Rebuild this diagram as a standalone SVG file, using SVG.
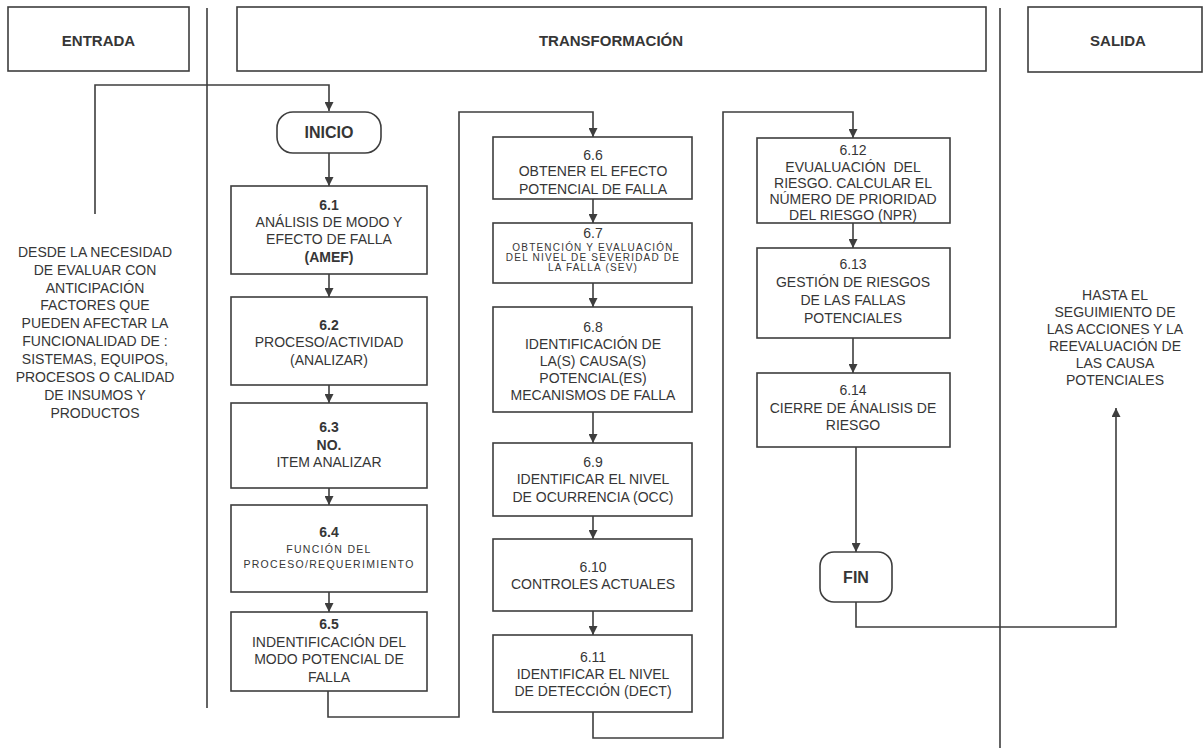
<svg xmlns="http://www.w3.org/2000/svg" width="1203" height="748" viewBox="0 0 1203 748">
<style>
.bg{fill:#ffffff}
.box{fill:#ffffff;stroke:#3e3e3e;stroke-width:1.6}
.sep{fill:none;stroke:#3e3e3e;stroke-width:1.6}
.con{fill:none;stroke:#3e3e3e;stroke-width:1.6}
text{font-family:"Liberation Sans",Arial,sans-serif;fill:#363636;text-anchor:middle;dominant-baseline:central}
.t{font-size:14px}
.b{font-size:14px;font-weight:bold}
.h{font-size:15px;font-weight:bold}
.term{font-size:16px;font-weight:bold}
.s{font-size:10px;letter-spacing:1.2px}
.s2{font-size:10.5px;letter-spacing:1.3px}
.pre{white-space:pre}
</style>
<defs>
<marker id="arr" markerUnits="userSpaceOnUse" markerWidth="9" markerHeight="9" refX="9" refY="4.5" orient="auto">
<path d="M0,0 L9,4.5 L0,9 z" fill="#3e3e3e"/>
</marker>
</defs>
<rect class="bg" x="0" y="0" width="1203" height="748"/>

<g id="headers">
<g id="entrada"><rect class="box" x="8" y="7" width="181" height="64"/><text class="h" x="98.5" y="40">ENTRADA</text></g>
<g id="transformacion"><rect class="box" x="237" y="7" width="749" height="64"/><text class="h" x="611" y="40">TRANSFORMACIÓN</text></g>
<g id="salida"><rect class="box" x="1028" y="7" width="174" height="65"/><text class="h" x="1118" y="40">SALIDA</text></g>
</g>

<g id="separators">
<path class="sep" d="M207 8 V708"/>
<path class="sep" d="M1000 8 V748"/>
</g>

<g id="connectors">
<path class="con" d="M95 214 V85 H329 V111" marker-end="url(#arr)"/>
<path class="con" d="M329 153 V186" marker-end="url(#arr)"/>
<path class="con" d="M329 274 V297" marker-end="url(#arr)"/>
<path class="con" d="M329 385 V403" marker-end="url(#arr)"/>
<path class="con" d="M329 488 V505" marker-end="url(#arr)"/>
<path class="con" d="M329 592 V612" marker-end="url(#arr)"/>
<path class="con" d="M328 691 V717 H459 V112 H593 V137" marker-end="url(#arr)"/>
<path class="con" d="M593 199 V223" marker-end="url(#arr)"/>
<path class="con" d="M593 283 V307" marker-end="url(#arr)"/>
<path class="con" d="M593 412 V443" marker-end="url(#arr)"/>
<path class="con" d="M593 516 V539" marker-end="url(#arr)"/>
<path class="con" d="M593 611 V635" marker-end="url(#arr)"/>
<path class="con" d="M593 712 V738 H723 V112 H853 V138" marker-end="url(#arr)"/>
<path class="con" d="M853 223 V248" marker-end="url(#arr)"/>
<path class="con" d="M853 338 V373" marker-end="url(#arr)"/>
<path class="con" d="M856 447 V552" marker-end="url(#arr)"/>
<path class="con" d="M856 602 V627 H1116 V408" marker-end="url(#arr)"/>
</g>

<g id="entrada-text">
<text class="t" x="95" y="252">DESDE LA NECESIDAD</text>
<text class="t" x="95" y="270">DE EVALUAR CON</text>
<text class="t" x="95" y="288">ANTICIPACIÓN</text>
<text class="t" x="95" y="305">FACTORES QUE</text>
<text class="t" x="95" y="323">PUEDEN AFECTAR LA</text>
<text class="t" x="95" y="341">FUNCIONALIDAD DE :</text>
<text class="t" x="95" y="359">SISTEMAS, EQUIPOS,</text>
<text class="t" x="95" y="377">PROCESOS O CALIDAD</text>
<text class="t" x="95" y="395">DE INSUMOS Y</text>
<text class="t" x="95" y="413">PRODUCTOS</text>
</g>

<g id="salida-text">
<text class="t" x="1115" y="295">HASTA EL</text>
<text class="t" x="1115" y="312">SEGUIMIENTO DE</text>
<text class="t" x="1115" y="329">LAS ACCIONES Y LA</text>
<text class="t" x="1115" y="346">REEVALUACIÓN DE</text>
<text class="t" x="1115" y="363">LAS CAUSA</text>
<text class="t" x="1115" y="380">POTENCIALES</text>
</g>

<g id="inicio"><rect class="box" x="277" y="112" width="104" height="41" rx="16"/><text class="term" x="329" y="132.5">INICIO</text></g>

<g id="n6-1"><rect class="box" x="231" y="186" width="196" height="88"/>
<text class="b" x="329" y="205">6.1</text>
<text class="t" x="329" y="222">ANÁLISIS DE MODO Y</text>
<text class="t" x="329" y="239">EFECTO DE FALLA</text>
<text class="b" x="329" y="257">(AMEF)</text></g>

<g id="n6-2"><rect class="box" x="231" y="297" width="196" height="88"/>
<text class="b" x="329" y="325">6.2</text>
<text class="t" x="329" y="342">PROCESO/ACTIVIDAD</text>
<text class="t" x="329" y="360">(ANALIZAR)</text></g>

<g id="n6-3"><rect class="box" x="231" y="403" width="196" height="85"/>
<text class="b" x="329" y="427">6.3</text>
<text class="b" x="329" y="445">NO.</text>
<text class="t" x="329" y="462">ITEM ANALIZAR</text></g>

<g id="n6-4"><rect class="box" x="231" y="505" width="196" height="87"/>
<text class="b" x="329" y="532">6.4</text>
<text class="s2" x="329" y="549">FUNCIÓN DEL</text>
<text class="s2" x="329" y="564">PROCESO/REQUERIMIENTO</text></g>

<g id="n6-5"><rect class="box" x="231" y="612" width="196" height="79"/>
<text class="b" x="329" y="624">6.5</text>
<text class="t" x="329" y="642">INDENTIFICACIÓN DEL</text>
<text class="t" x="329" y="659">MODO POTENCIAL DE</text>
<text class="t" x="329" y="677">FALLA</text></g>

<g id="n6-6"><rect class="box" x="493" y="137" width="199" height="62"/>
<text class="t" x="593" y="155">6.6</text>
<text class="t" x="593" y="171">OBTENER EL EFECTO</text>
<text class="t" x="593" y="189">POTENCIAL DE FALLA</text></g>

<g id="n6-7"><rect class="box" x="493" y="223" width="199" height="60"/>
<text class="t" x="593" y="233">6.7</text>
<text class="s" x="593" y="247">OBTENCIÓN Y EVALUACIÓN</text>
<text class="s" x="593" y="257">DEL NIVEL DE SEVERIDAD DE</text>
<text class="s" x="593" y="267">LA FALLA (SEV)</text></g>

<g id="n6-8"><rect class="box" x="493" y="307" width="199" height="105"/>
<text class="t" x="593" y="327">6.8</text>
<text class="t" x="593" y="344">IDENTIFICACIÓN DE</text>
<text class="t" x="593" y="361">LA(S) CAUSA(S)</text>
<text class="t" x="593" y="378">POTENCIAL(ES)</text>
<text class="t" x="593" y="395">MECANISMOS DE FALLA</text></g>

<g id="n6-9"><rect class="box" x="493" y="443" width="199" height="73"/>
<text class="t" x="593" y="462">6.9</text>
<text class="t" x="593" y="479">IDENTIFICAR EL NIVEL</text>
<text class="t" x="593" y="497">DE OCURRENCIA (OCC)</text></g>

<g id="n6-10"><rect class="box" x="493" y="539" width="199" height="72"/>
<text class="t" x="593" y="567">6.10</text>
<text class="t" x="593" y="584">CONTROLES ACTUALES</text></g>

<g id="n6-11"><rect class="box" x="493" y="635" width="199" height="77"/>
<text class="t" x="593" y="657">6.11</text>
<text class="t" x="593" y="674">IDENTIFICAR EL NIVEL</text>
<text class="t" x="593" y="691">DE DETECCIÓN (DECT)</text></g>

<g id="n6-12"><rect class="box" x="757" y="138" width="193" height="85"/>
<text class="t" x="853" y="150">6.12</text>
<text class="t pre" x="853" y="167">EVUALUACIÓN  DEL</text>
<text class="t" x="853" y="183">RIESGO. CALCULAR EL</text>
<text class="t" x="853" y="199">NÚMERO DE PRIORIDAD</text>
<text class="t" x="853" y="215">DEL RIESGO (NPR)</text></g>

<g id="n6-13"><rect class="box" x="757" y="248" width="193" height="90"/>
<text class="t" x="853" y="264">6.13</text>
<text class="t" x="853" y="282">GESTIÓN DE RIESGOS</text>
<text class="t" x="853" y="300">DE LAS FALLAS</text>
<text class="t" x="853" y="318">POTENCIALES</text></g>

<g id="n6-14"><rect class="box" x="757" y="373" width="193" height="74"/>
<text class="t" x="853" y="390">6.14</text>
<text class="t" x="853" y="408">CIERRE DE ÁNALISIS DE</text>
<text class="t" x="853" y="425">RIESGO</text></g>

<g id="fin"><rect class="box" x="820" y="552" width="72" height="50" rx="14"/><text class="term" x="856" y="577">FIN</text></g>
</svg>
